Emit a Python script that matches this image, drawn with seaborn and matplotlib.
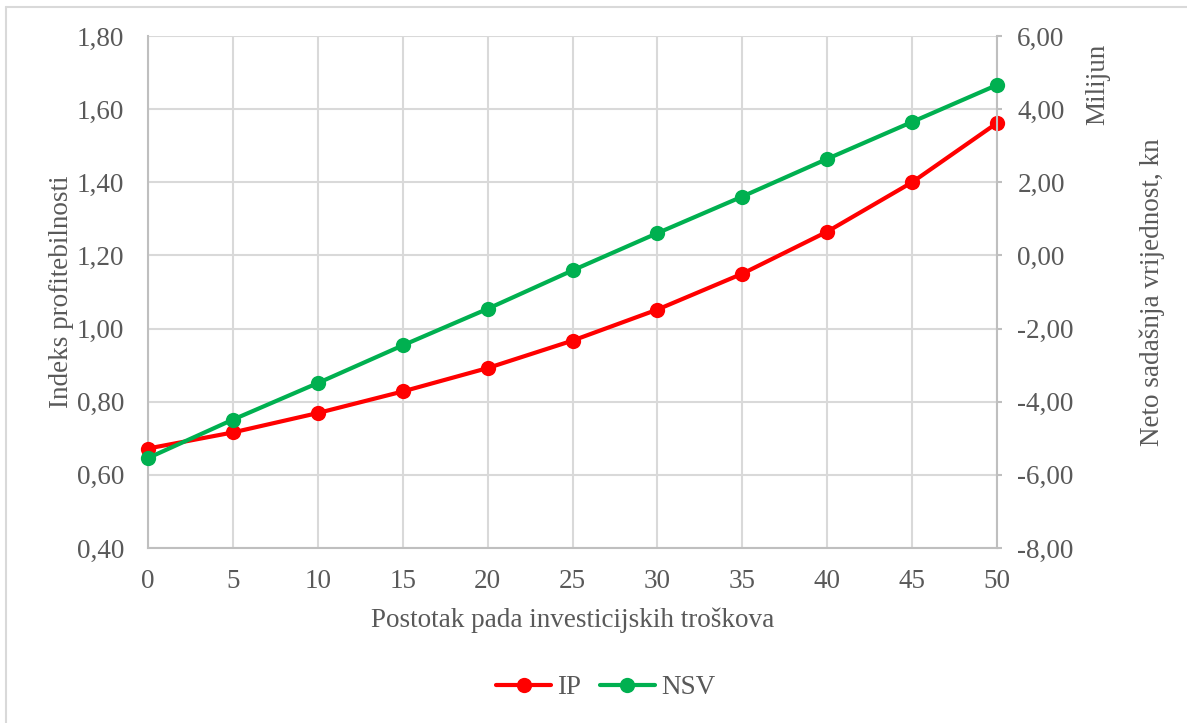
import matplotlib
matplotlib.use("Agg")
import matplotlib.pyplot as plt
from matplotlib.ticker import FuncFormatter, MultipleLocator
from matplotlib.lines import Line2D
import seaborn as sns

# data
pad_troskova = [0, 5, 10, 15, 20, 25, 30, 35, 40, 45, 50]
ip = [0.672, 0.716, 0.769, 0.828, 0.892, 0.967, 1.052, 1.150, 1.265, 1.400, 1.562]
nsv = [-5.54, -4.49, -3.49, -2.46, -1.46, -0.41, 0.61, 1.61, 2.64, 3.65, 4.66]

sns.set_style("white")
plt.rcParams['font.family'] = ['Liberation Serif', 'DejaVu Serif']

grey_txt = "#595959"
grid_c = "#d9d9d9"
axis_c = "#bfbfbf"
red = "#ff0000"
green = "#00b050"
fs = 19.5

fig = plt.figure(figsize=(11.87, 7.23), dpi=100)
fig.subplots_adjust(left=148/1187, right=997/1187, top=1-36/723, bottom=1-548/723)
ax = fig.add_subplot(111)
ax2 = ax.twinx()

sns.lineplot(x=pad_troskova, y=ip, ax=ax, color=red, marker='o', markersize=11,
             markeredgewidth=0, linewidth=3, clip_on=False, zorder=3)
sns.lineplot(x=pad_troskova, y=nsv, ax=ax2, color=green, marker='o', markersize=11,
             markeredgewidth=0, linewidth=3, clip_on=False, zorder=3)

ax.set_xlim(0, 50)
ax.set_ylim(0.40, 1.80)
ax2.set_ylim(-8, 6)
ax.xaxis.set_major_locator(MultipleLocator(5))
ax.yaxis.set_major_locator(MultipleLocator(0.2))
ax2.yaxis.set_major_locator(MultipleLocator(2))

fmt = FuncFormatter(lambda v, p: f"{v:.2f}".replace('.', ','))
ax.yaxis.set_major_formatter(fmt)
ax2.yaxis.set_major_formatter(fmt)

ax.grid(True, color=grid_c, linewidth=1.5)
ax.set_axisbelow(True)
for a in (ax, ax2):
    for s in a.spines.values():
        s.set_visible(False)
for a, side in ((ax, 'left'), (ax, 'bottom'), (ax2, 'right')):
    a.spines[side].set_visible(True)
    a.spines[side].set_color(axis_c)
    a.spines[side].set_linewidth(1.5)

ax.tick_params(axis='x', length=0, labelsize=fs, labelcolor=grey_txt, pad=15)
ax.tick_params(axis='y', length=0, labelsize=fs, labelcolor=grey_txt, pad=17)
ax2.tick_params(axis='y', length=3.6, width=1.5, color=axis_c, labelsize=fs,
                labelcolor=grey_txt, pad=11)

ax.set_xlabel("Postotak pada investicijskih troškova", fontsize=fs, color=grey_txt)
ax.xaxis.set_label_coords(0.5, -0.117)
ax.set_ylabel("Indeks profitebilnosti", fontsize=fs, color=grey_txt)
ax.yaxis.set_label_coords(-0.087, 0.5)
ax2.set_ylabel("Neto sadašnja vrijednost, kn", fontsize=fs, color=grey_txt)
ax2.yaxis.set_label_coords(1.168, 0.5)

fig.text(1098/1187, 1-84/723, "Milijun", rotation=90, fontsize=fs, color=grey_txt,
         ha='center', va='center')

handles = [Line2D([], [], color=red, marker='o', markersize=11, markeredgewidth=0, linewidth=3),
           Line2D([], [], color=green, marker='o', markersize=11, markeredgewidth=0, linewidth=3)]
leg = fig.legend(handles, ["IP", "NSV"], loc='center', bbox_to_anchor=(606/1187, 1-688/723),
                 ncol=2, frameon=False, fontsize=fs, handlelength=2.0, columnspacing=0.7,
                 handletextpad=0.25)
for t in leg.get_texts():
    t.set_color(grey_txt)

# chart area border (only left and top edges visible in the reference)
fig.add_artist(Line2D([6/1187, 6/1187], [0, 1-7/723], color=grid_c, linewidth=1.5))
fig.add_artist(Line2D([6/1187, 1], [1-7/723, 1-7/723], color=grid_c, linewidth=1.5))

fig.savefig("out.png", dpi=100)
